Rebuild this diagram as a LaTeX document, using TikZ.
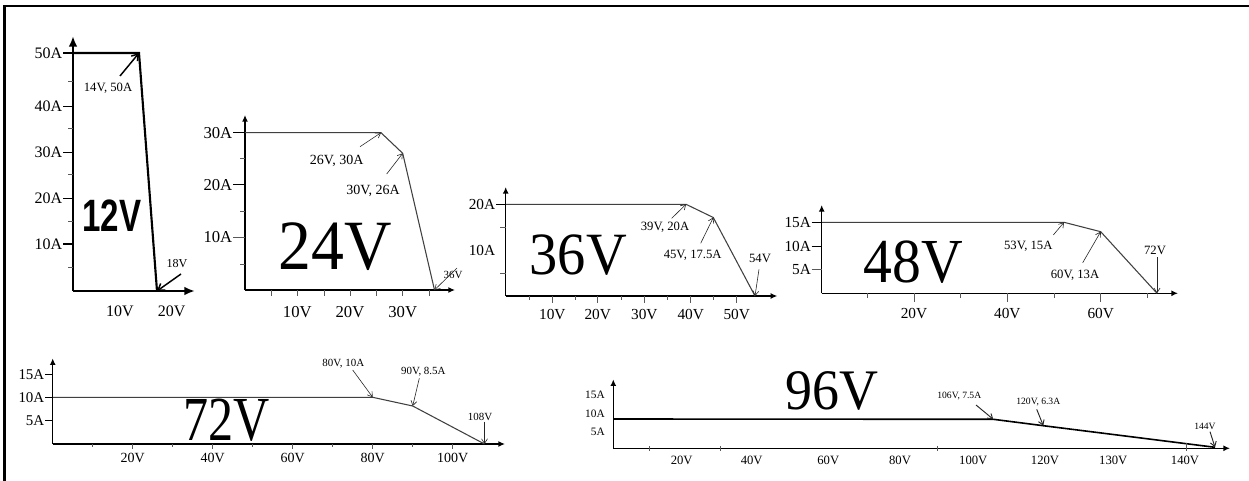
\documentclass[tikz,border=0pt]{standalone}
\usepackage{fontspec}
\setmainfont{Liberation Serif}
\newfontfamily\sansfam{Liberation Sans}
\usetikzlibrary{arrows.meta}
\newcommand{\fsz}[1]{\fontsize{#1}{#1}\selectfont}

\tikzset{
  axisline/.style={line width=1pt, -{Latex[length=5pt,width=4.5pt]}},
  axisbold/.style={line width=1.6pt, -{Latex[length=8pt,width=6.5pt]}},
  curveline/.style={line width=0.8pt, black!75},
  tickline/.style={line width=0.75pt, black!65},
  pointer/.style={line width=0.45pt, black!85, -{Straight Barb[length=3.5pt,width=4.5pt]}},
  pointerbold/.style={line width=1.1pt, -{Straight Barb[length=4.5pt,width=6pt]}},
  lbl/.style={inner sep=0pt, font=\fsz{11.5}},
  lblsmall/.style={inner sep=0pt, font=\fsz{10.5}},
  lbltiny/.style={inner sep=0pt, font=\fsz{8.5}},
  note/.style={inner sep=0pt, font=\fsz{9.5}},
  notesmall/.style={inner sep=0pt, font=\fsz{8.2}},
  notetiny/.style={inner sep=0pt, font=\fsz{7.2}}
}

\begin{document}
\begin{tikzpicture}[x=0.75pt, y=-0.75pt]
    \useasboundingbox (0,0) rectangle (1249,481);
    \draw [line width=1.7pt] (4.5,490) -- (4.5,6) -- (1260,6);

    % 12V
    \coordinate (o12) at (73,291);
    \coordinate (k12a) at (139,53);
    \coordinate (k12b) at (157,291);
    \draw [axisbold] (o12) -- (73,36);
    \draw [axisbold] (o12) -- (195,291);
    \draw [line width=1.6pt] (73,53) -- (k12a) -- (k12b);
    \draw [line width=1pt] (63,53) -- ++(10,0) (63,106.7) -- ++(10,0) (63,152.7) -- ++(10,0) (63,198.3) -- ++(10,0) (63,244) -- ++(10,0);
    \draw [tickline] (68,81.7) -- ++(5,0) (68,128.3) -- ++(5,0) (68,175) -- ++(5,0) (68,221.7) -- ++(5,0) (68,267.7) -- ++(5,0);
    \node [lbl, anchor=east, font=\fsz{12}] (a12e) at (62.5,53) {50A};
    \node [lbl, anchor=east, font=\fsz{12}] (a12d) at (62.5,106.7) {40A};
    \node [lbl, anchor=east, font=\fsz{12}] (a12c) at (62.5,152.7) {30A};
    \node [lbl, anchor=east, font=\fsz{12}] (a12b) at (62.5,198.3) {20A};
    \node [lbl, anchor=east, font=\fsz{12}] (a12a) at (62.5,244) {10A};
    \node [lbl, font=\fsz{12}] (v12a) at (120,311.7) {10V};
    \node [lbl, font=\fsz{12}] (v12b) at (171.7,311.7) {20V};
    \node [note] (n12a) at (108,88) {14V, 50A};
    \coordinate (s12a) at (120,76);
    \draw [pointerbold] (s12a) -- (k12a);
    \node [note, font=\fsz{9.1}] (n12b) at (177,263.5) {18V};
    \coordinate (s12b) at (181,274);
    \draw [pointerbold] (s12b) -- (k12b);
    \node (t12) at (112,216) {\scalebox{0.73}[1]{\sansfam\bfseries\fsz{34}12V}};

    % 24V
    \coordinate (o24) at (245,290);
    \coordinate (k24a) at (381,132.7);
    \coordinate (k24b) at (402.7,153.3);
    \coordinate (k24c) at (434.5,290);
    \draw [axisline] (o24) -- (245,115);
    \draw [axisline] (o24) -- (455,290);
    \draw [curveline] (245,132.7) -- (k24a) -- (k24b) -- (k24c);
    \draw [line width=0.75pt] (233,132.7) -- ++(12,0) (233,185) -- ++(12,0);
    \draw [tickline] (233,237.3) -- ++(12,0) (240,159) -- ++(5,0) (240,211.7) -- ++(5,0) (240,264) -- ++(5,0);
    \draw [tickline] (271.7,290) -- ++(0,6) (297.3,290) -- ++(0,6) (324,290) -- ++(0,6) (350,290) -- ++(0,6) (376.7,290) -- ++(0,6) (402.7,290) -- ++(0,6) (429.3,290) -- ++(0,6);
    \node [lbl, anchor=east, font=\fsz{12.5}] (a24c) at (232.5,132.7) {30A};
    \node [lbl, anchor=east, font=\fsz{12.5}] (a24b) at (232.5,185) {20A};
    \node [lbl, anchor=east, font=\fsz{12.5}] (a24a) at (232.5,237.3) {10A};
    \node [lbl, font=\fsz{12.5}] (v24a) at (297.3,311.7) {10V};
    \node [lbl, font=\fsz{12.5}] (v24b) at (350,311.7) {20V};
    \node [lbl, font=\fsz{12.5}] (v24c) at (402.7,311.7) {30V};
    \node [note, font=\fsz{10.5}] (n24a) at (336.7,160.5) {26V, 30A};
    \coordinate (s24a) at (360,146.7);
    \draw [pointer] (s24a) -- (k24a);
    \node [note, font=\fsz{10.5}] (n24b) at (373,190.5) {30V, 26A};
    \coordinate (s24b) at (386.7,174);
    \draw [pointer] (s24b) -- (k24b);
    \node [notesmall] (n24c) at (453,274.5) {36V};
    \coordinate (s24c) at (457,268);
    \draw [pointer] (s24c) -- (k24c);
    \node (t24) at (335,246.7) {\scalebox{0.93}[1]{\fsz{53}24V}};

    % 36V
    \coordinate (o36) at (505.7,296);
    \coordinate (k36a) at (686,204.3);
    \coordinate (k36b) at (713.3,217.5);
    \coordinate (k36c) at (755,296);
    \draw [axisline] (o36) -- (505.7,187);
    \draw [axisline] (o36) -- (777.3,296);
    \draw [curveline] (505.7,204.3) -- (k36a) -- (k36b) -- (k36c);
    \draw [line width=0.75pt] (496,204.3) -- ++(9.7,0);
    \draw [tickline] (500,227.3) -- ++(5.7,0) (500,273.3) -- ++(5.7,0);
    \draw [tickline] (529,296) -- ++(0,4) (552.3,296) -- ++(0,6.5) (575,296) -- ++(0,4) (597.7,296) -- ++(0,6.5) (621,296) -- ++(0,4) (644.3,296) -- ++(0,6.5) (667.3,296) -- ++(0,4) (690.7,296) -- ++(0,6.5) (713.3,296) -- ++(0,4) (736.7,296) -- ++(0,6.5);
    \node [lbl, anchor=east] (a36b) at (495.5,204.3) {20A};
    \node [lbl, anchor=east] (a36a) at (495.5,250.7) {10A};
    \node [lbl] (v36a) at (552.3,315) {10V};
    \node [lbl] (v36b) at (597.7,315) {20V};
    \node [lbl] (v36c) at (644.3,315) {30V};
    \node [lbl] (v36d) at (690.7,315) {40V};
    \node [lbl] (v36e) at (736.7,315) {50V};
    \node [note] (n36a) at (665,227) {39V, 20A};
    \coordinate (s36a) at (671.7,218.3);
    \draw [pointer] (s36a) -- (k36a);
    \node [note] (n36b) at (692.7,255.3) {45V, 17.5A};
    \coordinate (s36b) at (700.7,243.3);
    \draw [pointer] (s36b) -- (k36b);
    \node [note] (n36c) at (760,258.3) {54V};
    \coordinate (s36c) at (759,269.3);
    \draw [pointer] (s36c) -- (k36c);
    \node (t36) at (578.3,255) {\scalebox{0.94}[1]{\fsz{45}36V}};

    % 48V
    \coordinate (o48) at (821.7,293.3);
    \coordinate (k48a) at (1064,222.3);
    \coordinate (k48b) at (1100.7,231.7);
    \coordinate (k48c) at (1157,293.3);
    \draw [axisline] (o48) -- (821.7,205);
    \draw [axisline] (o48) -- (1178,293.3);
    \draw [curveline] (821.7,222.3) -- (k48a) -- (k48b) -- (k48c);
    \draw [line width=0.75pt] (811.7,222.3) -- ++(10,0) (811.7,246) -- ++(10,0);
    \draw [tickline] (811.7,269.3) -- ++(10,0);
    \draw [tickline] (867.3,293.3) -- ++(0,5) (914,293.3) -- ++(0,9) (960.7,293.3) -- ++(0,5) (1007.3,293.3) -- ++(0,9) (1054,293.3) -- ++(0,5) (1100.7,293.3) -- ++(0,9) (1147.3,293.3) -- ++(0,5);
    \node [lbl] (a48c) [anchor=east] at (811.2,222.3) {15A};
    \node [lbl] (a48b) [anchor=east] at (811.2,246) {10A};
    \node [lbl] (a48a) [anchor=east] at (811.2,269.3) {5A};
    \node [lbl] (v48a) at (914,314) {20V};
    \node [lbl] (v48b) at (1007.3,314) {40V};
    \node [lbl] (v48c) at (1100.7,314) {60V};
    \node [note] (n48a) at (1028.3,246.3) {53V, 15A};
    \coordinate (s48a) at (1053.3,235);
    \draw [pointer] (s48a) -- (k48a);
    \node [note] (n48b) at (1075,275.3) {60V, 13A};
    \coordinate (s48b) at (1082.7,262.7);
    \draw [pointer] (s48b) -- (k48b);
    \node [note] (n48c) at (1155,250.7) {72V};
    \coordinate (s48c) at (1157,257);
    \draw [pointer] (s48c) -- (k48c);
    \node (t48) at (913.3,261.7) {\scalebox{0.92}[1]{\fsz{47}48V}};

    % 72V
    \coordinate (o72) at (52.7,444);
    \coordinate (k72a) at (372.7,397.3);
    \coordinate (k72b) at (412.7,406);
    \coordinate (k72c) at (484.5,444);
    \draw [axisline] (o72) -- (52.7,358.3);
    \draw [axisline] (o72) -- (505,444);
    \draw [curveline] (52.7,397.3) -- (k72a) -- (k72b) -- (k72c);
    \draw [line width=0.75pt] (45,374.3) -- ++(7.7,0) (45,397.3) -- ++(7.7,0) (45,420.7) -- ++(7.7,0);
    \draw [tickline] (92.7,444) -- ++(0,3) (132.7,444) -- ++(0,5) (172.7,444) -- ++(0,3) (212.7,444) -- ++(0,5) (252.7,444) -- ++(0,3) (292.7,444) -- ++(0,5) (332.7,444) -- ++(0,3) (372.7,444) -- ++(0,5) (412.7,444) -- ++(0,3) (452.7,444) -- ++(0,5);
    \node [lbl, anchor=east, font=\fsz{11.2}] (a72c) at (44.5,374.3) {15A};
    \node [lbl, anchor=east, font=\fsz{11.2}] (a72b) at (44.5,397.3) {10A};
    \node [lbl, anchor=east, font=\fsz{11.2}] (a72a) at (44.5,420.7) {5A};
    \node [lblsmall] (v72a) at (132.7,458.3) {20V};
    \node [lblsmall] (v72b) at (212.7,458.3) {40V};
    \node [lblsmall] (v72c) at (292.7,458.3) {60V};
    \node [lblsmall] (v72d) at (372.7,458.3) {80V};
    \node [lblsmall] (v72e) at (452.7,458.3) {100V};
    \node [notesmall] (n72a) at (343.3,363.3) {80V, 10A};
    \coordinate (s72a) at (352.7,370);
    \draw [pointer] (s72a) -- (k72a);
    \node [notesmall] (n72b) at (423.3,371.7) {90V, 8.5A};
    \coordinate (s72b) at (419.3,378.3);
    \draw [pointer] (s72b) -- (k72b);
    \node [notesmall] (n72c) at (480,417.3) {108V};
    \coordinate (s72c) at (484.5,421.5);
    \draw [pointer] (s72c) -- (k72c);
    \node (t72) at (226.7,420) {\scalebox{0.8}[1]{\fsz{47}72V}};

    % 96V
    \coordinate (o96) at (613.3,448.3);
    \coordinate (k96a) at (993.3,419.3);
    \coordinate (k96b) at (1043.3,425.7);
    \coordinate (k96c) at (1215,447.3);
    \draw [axisline, line width=1.1pt] (o96) -- (613.3,379.3);
    \draw [axisline, line width=1.1pt] (o96) -- (1230,448.3);
    \draw [line width=1.2pt] (613.3,419) -- (k96a) -- (k96b) -- (k96c);
    \draw [tickline] (649.3,446) -- ++(0,5) (720,446) -- ++(0,5) (937,446) -- ++(0,5) (1186,443) -- ++(0,8);
    \node [lbltiny, anchor=east] (a96c) at (605,395) {15A};
    \node [lbltiny, anchor=east] (a96b) at (605,413.3) {10A};
    \node [lbltiny, anchor=east] (a96a) at (605,431.7) {5A};
    \node [lbltiny, font=\fsz{9.5}] (v96a) at (681.7,460) {20V};
    \node [lbltiny, font=\fsz{9.5}] (v96b) at (751.7,460) {40V};
    \node [lbltiny, font=\fsz{9.5}] (v96c) at (828.3,460) {60V};
    \node [lbltiny, font=\fsz{9.5}] (v96d) at (900,460) {80V};
    \node [lbltiny, font=\fsz{9.5}] (v96e) at (973.3,460) {100V};
    \node [lbltiny, font=\fsz{9.5}] (v96f) at (1045,460) {120V};
    \node [lbltiny, font=\fsz{9.5}] (v96g) at (1113.3,460) {130V};
    \node [lbltiny, font=\fsz{9.5}] (v96h) at (1185,460) {140V};
    \node [notetiny] (n96a) at (959.3,396) {106V, 7.5A};
    \coordinate (s96a) at (976,405);
    \draw [pointer, line width=0.7pt] (s96a) -- (k96a);
    \node [notetiny] (n96b) at (1038.3,401.7) {120V, 6.3A};
    \coordinate (s96b) at (1036.7,409.3);
    \draw [pointer, line width=0.7pt] (s96b) -- (k96b);
    \node [notetiny] (n96c) at (1205,426.7) {144V};
    \coordinate (s96c) at (1210,431.7);
    \draw [pointer, line width=0.7pt] (s96c) -- (k96c);
    \node (t96) at (831.7,391) {\scalebox{0.94}[1]{\fsz{43}96V}};
\end{tikzpicture}
\end{document}
